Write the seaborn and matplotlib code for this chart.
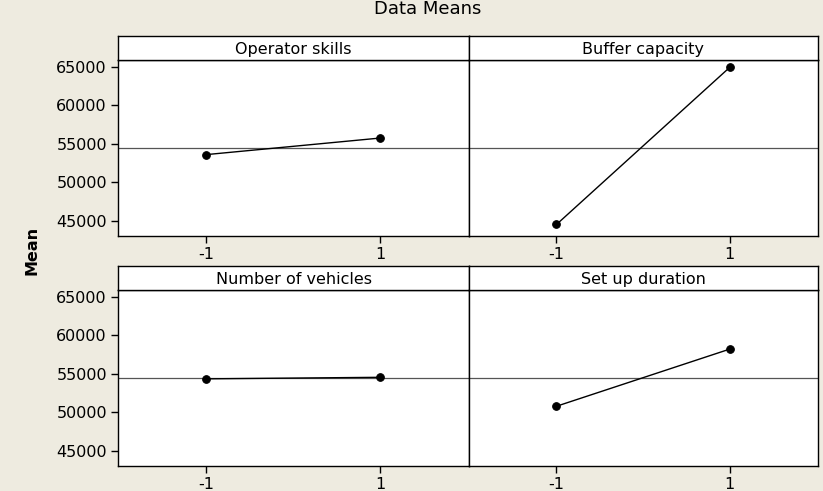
import pandas as pd
import seaborn as sns
import matplotlib.pyplot as plt

# main effects: mean response at each factor level
factors = ["Operator skills", "Buffer capacity", "Number of vehicles", "Set up duration"]
levels = [-1, 1]
mean_low = [53600, 44550, 54350, 50800]
mean_high = [55750, 64900, 54550, 58200]
grand_mean = 54500
yticks = [45000, 50000, 55000, 60000, 65000]

rows = []
for f, lo, hi in zip(factors, mean_low, mean_high):
    rows.append({"factor": f, "level": levels[0], "mean": lo})
    rows.append({"factor": f, "level": levels[1], "mean": hi})
df = pd.DataFrame(rows)

sns.set_style("white", {"xtick.bottom": True, "ytick.left": True})
plt.rcParams["font.family"] = ["DejaVu Sans"]
plt.rcParams["text.color"] = "black"
plt.rcParams["xtick.color"] = "black"
plt.rcParams["ytick.color"] = "black"
bg = "#EEEBE0"

W, H = 823, 491
fig = plt.figure(figsize=(W / 100, H / 100), dpi=100, facecolor=bg)


def box(x0, x1, y_top, y_bot):
    # pixel coords (top-left origin) -> figure fraction
    return [x0 / W, 1 - y_bot / H, (x1 - x0) / W, (y_bot - y_top) / H]


cols = [(118, 469), (469, 818)]
row_px = [(36, 60, 236), (266, 290, 466)]

for i, f in enumerate(factors):
    r, c = divmod(i, 2)
    x0, x1 = cols[c]
    s_top, p_top, p_bot = row_px[r]

    ax = fig.add_axes(box(x0, x1, p_top, p_bot))
    ax.set_facecolor("white")
    ax.axhline(grand_mean, color="#555555", lw=0.9, zorder=1)
    sns.lineplot(data=df[df["factor"] == f], x="level", y="mean", ax=ax,
                 color="black", lw=1.0, marker="o", markersize=5.5,
                 markeredgecolor="black", zorder=3)
    ax.set_xlim(-2.01, 2.02)
    ax.set_ylim(43060, 65860)
    ax.set_xticks(levels)
    ax.set_xticklabels(["-1", "1"])
    ax.set_yticks(yticks)
    ax.set_xlabel("")
    ax.set_ylabel("")
    ax.tick_params(axis="both", direction="out", length=5, width=1.0,
                   labelsize=11.5, colors="black", pad=3)
    ax.tick_params(axis="x", bottom=True)
    if c == 0:
        ax.tick_params(axis="y", left=True)
    else:
        ax.tick_params(axis="y", left=False, labelleft=False)
    for sp in ax.spines.values():
        sp.set_visible(True)
        sp.set_color("black")
        sp.set_linewidth(1.0)

    st = fig.add_axes(box(x0, x1, s_top, p_top))
    st.set_facecolor("white")
    st.set_xticks([])
    st.set_yticks([])
    for sp in st.spines.values():
        sp.set_visible(True)
        sp.set_color("black")
        sp.set_linewidth(1.0)
    st.text(0.5, 0.45, f, ha="center", va="center", fontsize=11.5,
            transform=st.transAxes)

fig.text(32 / W, 1 - 250 / H, "Mean", rotation=90, ha="center", va="center",
         fontsize=11.5, fontweight="bold")
fig.text(428 / W, 1 - 14 / H, "Data Means", ha="center", va="baseline",
         fontsize=13)

fig.savefig("out.png", dpi=100, facecolor=bg)
